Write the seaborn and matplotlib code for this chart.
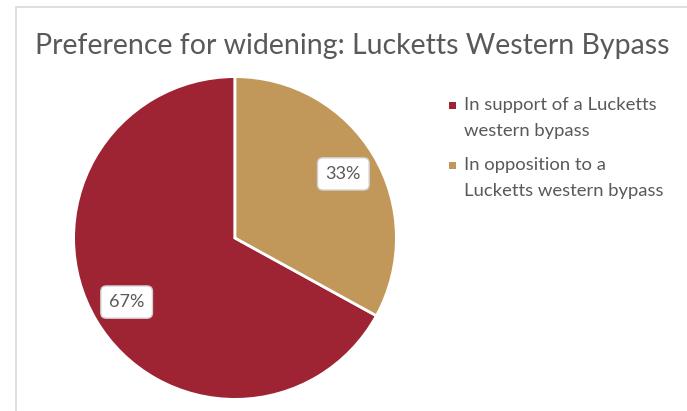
import matplotlib
matplotlib.use("Agg")
import matplotlib.pyplot as plt
from matplotlib.patches import Rectangle
import seaborn as sns

# data
labels = ["In support of a Lucketts\nwestern bypass", "In opposition to a\nLucketts western bypass"]
shares = [67, 33]
colors = ["#9E2333", "#C1985A"]
title = "Preference for widening: Lucketts Western Bypass"

sns.set_theme(style="white")
plt.rcParams["font.family"] = ["Lato", "DejaVu Sans"]
text_grey = "#595959"
W, H = 687, 411

fig = plt.figure(figsize=(W / 100, H / 100), dpi=100)

# light frame of the chart area
fig.patches.append(Rectangle((16 / W, -0.01), 1.0, 1 - 7 / H + 0.01,
                             transform=fig.transFigure, fill=False,
                             edgecolor="#D9D9D9", linewidth=1.2))

fig.text(352 / W, 1 - 46 / H, title, ha="center", va="center",
         fontsize=20.5, color=text_grey)

ax = fig.add_axes([72 / W, 10 / H, 326 / W, 326 / H])
start = 90 - 360 * shares[1] / sum(shares)
wedges, _, autotexts = ax.pie(
    shares, colors=colors, startangle=start, counterclock=False,
    autopct="%d%%", pctdistance=0.78,
    wedgeprops=dict(edgecolor="white", linewidth=2),
    textprops=dict(color=text_grey, fontsize=13))
for t in autotexts:
    t.set_bbox(dict(boxstyle="round,pad=0.45,rounding_size=0.3", facecolor="white",
                    edgecolor="#D0D0D0", linewidth=1))
ax.set_xlim(-1.01, 1.01)
ax.set_ylim(-1.01, 1.01)
ax.set_aspect("equal")

# legend drawn by hand so the square sits on the first text line (Excel style)
for i, (lab, c) in enumerate(zip(labels, colors)):
    y = 105 + 60 * i
    fig.patches.append(Rectangle((449 / W, 1 - (y + 4) / H), 7 / W, 7 / H,
                                 transform=fig.transFigure, facecolor=c,
                                 edgecolor="none"))
    fig.text(464 / W, 1 - (y - 8) / H, lab, ha="left", va="top",
             fontsize=13.3, color=text_grey, linespacing=1.8)

fig.savefig("out.png", dpi=100, facecolor="white")
